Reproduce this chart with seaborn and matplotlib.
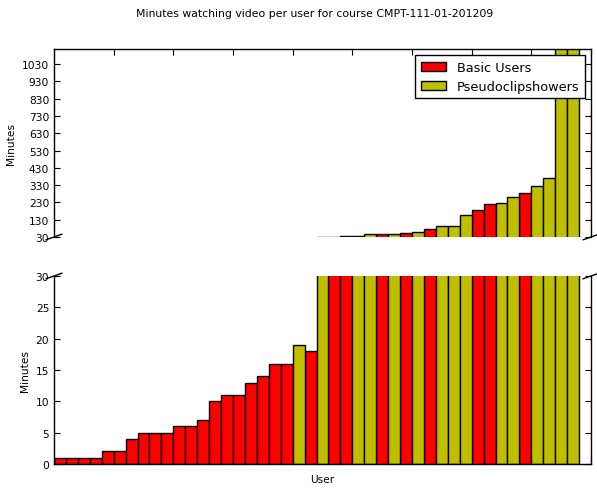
import numpy as np
import pandas as pd
import matplotlib
matplotlib.use('Agg')
import matplotlib.pyplot as plt
from matplotlib.patches import Patch
import seaborn as sns

# ---- data ----
users = list(range(44))
minutes = [1, 1, 1, 1, 2, 2, 4, 5, 5, 5, 6, 6, 7, 10, 11, 11, 13, 14, 16, 16, 19, 18,
           31, 32, 35, 35, 46, 45, 46, 55, 60, 78, 93, 93, 156, 188, 218, 224, 263, 286,
           323, 370, 1130, 1400]
group_codes = ['B'] * 20 + ['P', 'B', 'P', 'B', 'B', 'P', 'P', 'B', 'P', 'B', 'P', 'B',
                            'P', 'P', 'P', 'B', 'B', 'P', 'P', 'B', 'P', 'P', 'P', 'P']
group_names = {'B': 'Basic Users', 'P': 'Pseudoclipshowers'}
groups = [group_names[g] for g in group_codes]
top_yticks = list(range(30, 1031, 100))
bottom_yticks = list(range(0, 31, 5))
title = 'Minutes watching video per user for course CMPT-111-01-201209'

palette = {'Basic Users': '#ff0000', 'Pseudoclipshowers': '#bfbf00'}
hue_order = ['Basic Users', 'Pseudoclipshowers']

df = pd.DataFrame({'User': users, 'Minutes': minutes, 'Group': groups})

sns.set_theme(style='white')
plt.rcParams['font.family'] = ['DejaVu Sans']
plt.rcParams.update({
    'xtick.direction': 'in', 'ytick.direction': 'in',
    'xtick.major.size': 4, 'ytick.major.size': 4,
    'xtick.major.width': 0.8, 'ytick.major.width': 0.8,
    'axes.edgecolor': 'black', 'axes.linewidth': 1.0,
    'text.color': 'black', 'axes.labelcolor': 'black',
    'xtick.color': 'black', 'ytick.color': 'black',
})

W, H = 597, 489
fig = plt.figure(figsize=(W / 100, H / 100), dpi=100)
ax_top = fig.add_axes([54 / W, 1 - 238 / H, 537 / W, 188 / H])
ax_bot = fig.add_axes([54 / W, 1 - 465 / H, 537 / W, 188 / H])

FS = 7.7
for ax in (ax_top, ax_bot):
    sns.barplot(data=df, x='User', y='Minutes', hue='Group', hue_order=hue_order,
                palette=palette, saturation=1, dodge=False, width=1.0, edgecolor='black',
                linewidth=1.0, errorbar=None, legend=False, ax=ax)
    ax.set_xlim(-0.5, 44.5)
    ax.set_xticks(np.arange(-0.5, 45, 5))
    ax.set_xticklabels([])
    ax.tick_params(axis='y', which='both', left=True, right=True, labelsize=FS)
    ax.set_ylabel('Minutes', fontsize=FS)
    ax.set_xlabel('')

ax_top.set_ylim(30, 1117)
ax_top.set_yticks(top_yticks)
ax_top.spines['bottom'].set_visible(False)
ax_top.xaxis.tick_top()
ax_top.tick_params(axis='x', labeltop=False)

ax_bot.set_ylim(0, 30)
ax_bot.set_yticks(bottom_yticks)
ax_bot.spines['top'].set_visible(False)
ax_bot.xaxis.tick_bottom()
ax_bot.set_xlabel('User', fontsize=FS)

# break marks
d = 0.015
kw = dict(transform=ax_top.transAxes, color='black', clip_on=False, lw=1)
ax_top.plot((-d, +d), (-d, +d), **kw)
ax_top.plot((1 - d, 1 + d), (-d, +d), **kw)
kw.update(transform=ax_bot.transAxes)
ax_bot.plot((-d, +d), (1 - d, 1 + d), **kw)
ax_bot.plot((1 - d, 1 + d), (1 - d, 1 + d), **kw)

handles = [Patch(facecolor=palette[g], edgecolor='black', label=g) for g in hue_order]
leg = ax_top.legend(handles=handles, loc='upper right', fontsize=9.3, fancybox=False,
                    framealpha=1, edgecolor='black')
leg.get_frame().set_linewidth(1.0)

fig.text(314.5 / W, 1 - 14 / H, title, ha='center', va='center', fontsize=7.8)

fig.savefig('out.png', dpi=100)
